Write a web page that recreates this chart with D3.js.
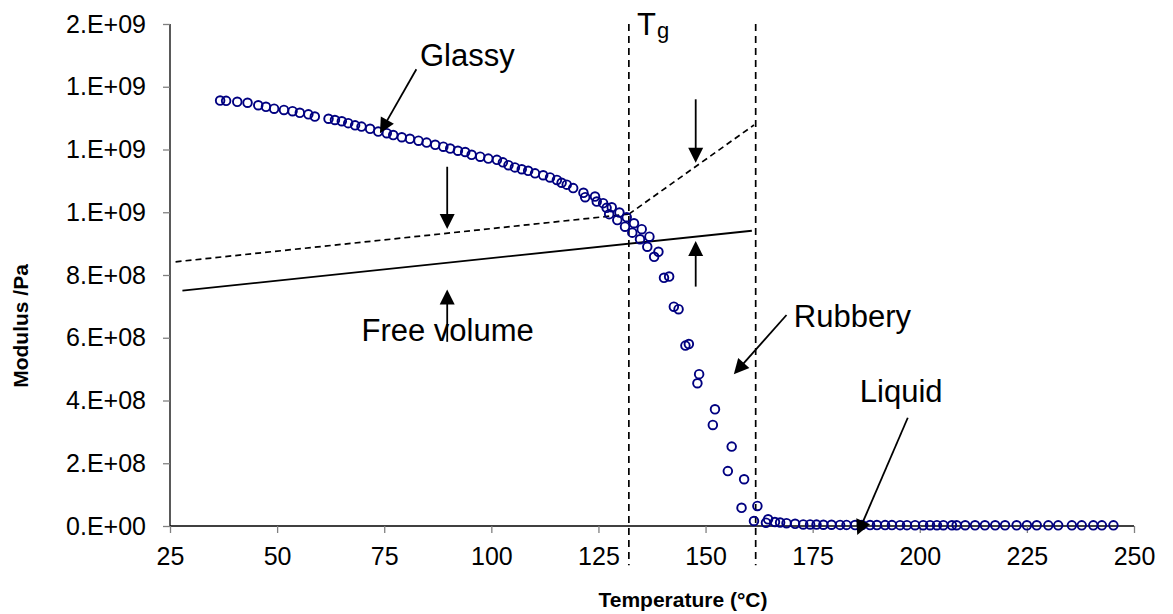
<!DOCTYPE html>
<html><head><meta charset="utf-8">
<script src="https://cdn.jsdelivr.net/npm/d3@7"></script>
<style>
body{margin:0;background:#fff;}
text{font-family:Arial,"Liberation Sans",sans-serif;fill:#000;}
</style>
</head><body>
<svg id="chart" width="1173" height="614"></svg>
<script>
// ---- data (temperature in °C, modulus in Pa) ----
const temperature = [
  36.7,38.1,40.7,43.1,45.6,47.4,49.3,51.6,53.6,55.3,57.3,58.8,62.0,63.5,65.1,66.6,68.2,69.7,71.7,73.6,
  75.6,77.1,79.1,81.0,83.0,84.9,86.9,88.8,90.4,92.2,93.9,95.4,97.4,99.3,101.3,102.7,104.0,105.5,107.1,108.6,
  110.2,112.1,113.7,115.3,116.4,117.6,119.1,
  121.5,121.9,124.2,124.6,126.1,126.9,128.1,127.5,129.9,129.4,131.6,131.2,133.3,132.9,135.1,134.7,136.9,136.4,139.0,138.0,
  140.3,141.5,142.6,143.7,145.3,146.1,148.1,148.5,151.7,152.2,155.2,156.1,158.4,159.0,161.3,162.1,
  164.1,164.6,166.2,167.4,168.9,170.9,172.8,174.4,175.9,177.5,179.4,181.4,182.9,184.9,186.5,188.4,190.0,191.9,193.5,195.4,
  197.0,198.9,200.8,202.4,204.0,205.5,207.5,208.6,210.6,212.9,215.2,217.6,219.9,222.6,225.0,227.3,230.0,232.3,235.5,237.8,
  240.5,242.5,245.2
];
const modulus = [
  1.356e9,1.355e9,1.352e9,1.349e9,1.341e9,1.336e9,1.330e9,1.326e9,1.322e9,1.317e9,1.312e9,1.305e9,1.298e9,1.294e9,1.290e9,1.284e9,1.277e9,1.273e9,1.266e9,1.257e9,
  1.252e9,1.246e9,1.239e9,1.234e9,1.228e9,1.222e9,1.215e9,1.209e9,1.203e9,1.196e9,1.192e9,1.183e9,1.177e9,1.171e9,1.167e9,1.159e9,1.150e9,1.143e9,1.137e9,1.132e9,
  1.124e9,1.118e9,1.111e9,1.103e9,1.094e9,1.088e9,1.077e9,
  1.062e9,1.048e9,1.050e9,1.034e9,1.029e9,1.014e9,1.016e9,0.994e9,0.999e9,0.975e9,0.984e9,0.954e9,0.965e9,0.935e9,0.946e9,0.914e9,0.922e9,0.890e9,0.874e9,0.858e9,
  0.791e9,0.795e9,0.699e9,0.691e9,0.575e9,0.580e9,0.455e9,0.484e9,0.322e9,0.372e9,0.175e9,0.253e9,0.058e9,0.149e9,0.016e9,0.064e9,
  0.0105e9,0.0214e9,0.0125e9,0.011e9,0.009e9,0.007e9,0.005e9,0.005e9,0.0045e9,0.004e9,0.004e9,0.0035e9,0.0035e9,0.003e9,0.003e9,0.003e9,0.003e9,0.0028e9,0.0028e9,0.0027e9,
  0.0027e9,0.0026e9,0.0026e9,0.0025e9,0.0025e9,0.0025e9,0.0024e9,0.0024e9,0.0024e9,0.0023e9,0.0023e9,0.0023e9,0.0022e9,0.0022e9,0.0022e9,0.0022e9,0.0021e9,0.0021e9,0.0021e9,0.0021e9,
  0.002e9,0.002e9,0.002e9
];
const xTicks = [25,50,75,100,125,150,175,200,225,250];
const yTicks = [0,2e8,4e8,6e8,8e8,1.0e9,1.2e9,1.4e9,1.6e9];
const yTickLabels = ["0.E+00","2.E+08","4.E+08","6.E+08","8.E+08","1.E+09","1.E+09","1.E+09","2.E+09"];

// reference lines [temperature, modulus]
const glassyExtrap = [[26.3,0.842e9],[132.1,0.994e9]];
const rubberyExtrap = [[132.1,0.994e9],[161.3,1.278e9]];
const freeVolumeLine = [[27.9,0.750e9],[160.8,0.941e9]];
const transitionTemps = [132.1, 161.7];
const transitionSpan = [1.6e9, -0.125e9];

// annotations
const arrows = [
  {from:[82.5,1.456e9], to:[74.0,1.252e9]},   // Glassy
  {from:[89.7,1.145e9], to:[89.7,0.947e9]},   // down arrow
  {from:[89.7,0.587e9], to:[89.7,0.754e9]},   // up arrow (free volume)
  {from:[147.7,1.360e9], to:[147.7,1.158e9]}, // down arrow near Tg
  {from:[147.7,0.763e9], to:[147.7,0.908e9]}, // up arrow near Tg
  {from:[168.9,0.6725e9], to:[156.6,0.4835e9]}, // Rubbery
  {from:[197.2,0.345e9], to:[185.4,-0.029e9]}   // Liquid
];
const labels = [
  {text:"Glassy", at:[83.35,1.467e9]},
  {text:"Free volume", at:[69.7,0.590e9]},
  {text:"Rubbery", at:[170.6,0.635e9]},
  {text:"Liquid", at:[186.0,0.394e9]}
];
const tgLabel = {main:"T", sub:"g", at:[134.0,1.565e9]};

// ---- layout ----
const svg = d3.select("#chart");
const x = d3.scaleLinear().domain([25,250]).range([170,1134]);
const y = d3.scaleLinear().domain([0,1.6e9]).range([526,24]);

// axes
const xAxis = svg.append("g").attr("transform","translate(0,526)")
  .call(d3.axisBottom(x).tickValues(xTicks).tickSize(7).tickPadding(14).tickFormat(d3.format("d")));
xAxis.select(".domain").attr("stroke","#000").attr("stroke-width",1.3).attr("d","M170,0H1134");
xAxis.selectAll(".tick line").attr("stroke","#808080").attr("stroke-width",1.3);
xAxis.selectAll(".tick text").attr("font-size",25).attr("font-family","Arial, 'Liberation Sans', sans-serif").attr("fill","#000").attr("dy","0.71em");

const yAxis = svg.append("g").attr("transform","translate(170,0)")
  .call(d3.axisLeft(y).tickValues(yTicks).tickSize(7).tickPadding(17).tickFormat((d,i)=>yTickLabels[i]));
yAxis.select(".domain").attr("stroke","#000").attr("stroke-width",1.3).attr("d","M0,24V526");
yAxis.selectAll(".tick line").attr("stroke","#808080").attr("stroke-width",1.3);
yAxis.selectAll(".tick text").attr("font-size",25).attr("font-family","Arial, 'Liberation Sans', sans-serif").attr("fill","#000");

// axis titles
svg.append("text").attr("x",683).attr("y",607).attr("text-anchor","middle")
  .attr("font-size",21).attr("font-weight","bold").text("Temperature (°C)");
svg.append("text").attr("transform","translate(28,326) rotate(-90)").attr("text-anchor","middle")
  .attr("font-size",21).attr("font-weight","bold").text("Modulus /Pa");

// vertical transition lines
svg.selectAll(".vline").data(transitionTemps).enter().append("line")
  .attr("x1",d=>x(d)).attr("x2",d=>x(d))
  .attr("y1",y(transitionSpan[0])).attr("y2",y(transitionSpan[1]))
  .attr("stroke","#000").attr("stroke-width",1.7).attr("stroke-dasharray","7,5");

const line = d3.line().x(d=>x(d[0])).y(d=>y(d[1]));
[glassyExtrap, rubberyExtrap].forEach(seg=>{
  svg.append("path").attr("d",line(seg)).attr("fill","none")
    .attr("stroke","#000").attr("stroke-width",1.7).attr("stroke-dasharray","6,4");
});
svg.append("path").attr("d",line(freeVolumeLine)).attr("fill","none")
  .attr("stroke","#000").attr("stroke-width",1.8);

// data points
const pts = temperature.map((t,i)=>[t,modulus[i]]);
svg.append("g").selectAll("circle").data(pts).enter().append("circle")
  .attr("cx",d=>x(d[0])).attr("cy",d=>y(d[1])).attr("r",4.3)
  .attr("fill","none").attr("stroke","#000080").attr("stroke-width",1.9);

// arrows
const headL = 15, headW = 7.5;
arrows.forEach(a=>{
  const x1=x(a.from[0]), y1=y(a.from[1]), x2=x(a.to[0]), y2=y(a.to[1]);
  const dx=x2-x1, dy=y2-y1, len=Math.hypot(dx,dy), ux=dx/len, uy=dy/len;
  const bx=x2-ux*headL, by=y2-uy*headL;
  svg.append("line").attr("x1",x1).attr("y1",y1).attr("x2",bx+ux*2).attr("y2",by+uy*2)
    .attr("stroke","#000").attr("stroke-width",1.8);
  svg.append("polygon")
    .attr("points",[[x2,y2],[bx-uy*headW,by+ux*headW],[bx+uy*headW,by-ux*headW]].map(p=>p.join(",")).join(" "))
    .attr("fill","#000");
});

// labels
labels.forEach(l=>{
  svg.append("text").attr("x",x(l.at[0])).attr("y",y(l.at[1])).attr("font-size",31).text(l.text);
});
const tg = svg.append("text").attr("x",x(tgLabel.at[0])).attr("y",y(tgLabel.at[1])).attr("font-size",31);
tg.append("tspan").text(tgLabel.main);
tg.append("tspan").attr("font-size",22).attr("dy",3).attr("dx",1).text(tgLabel.sub);
</script>
</body></html>
